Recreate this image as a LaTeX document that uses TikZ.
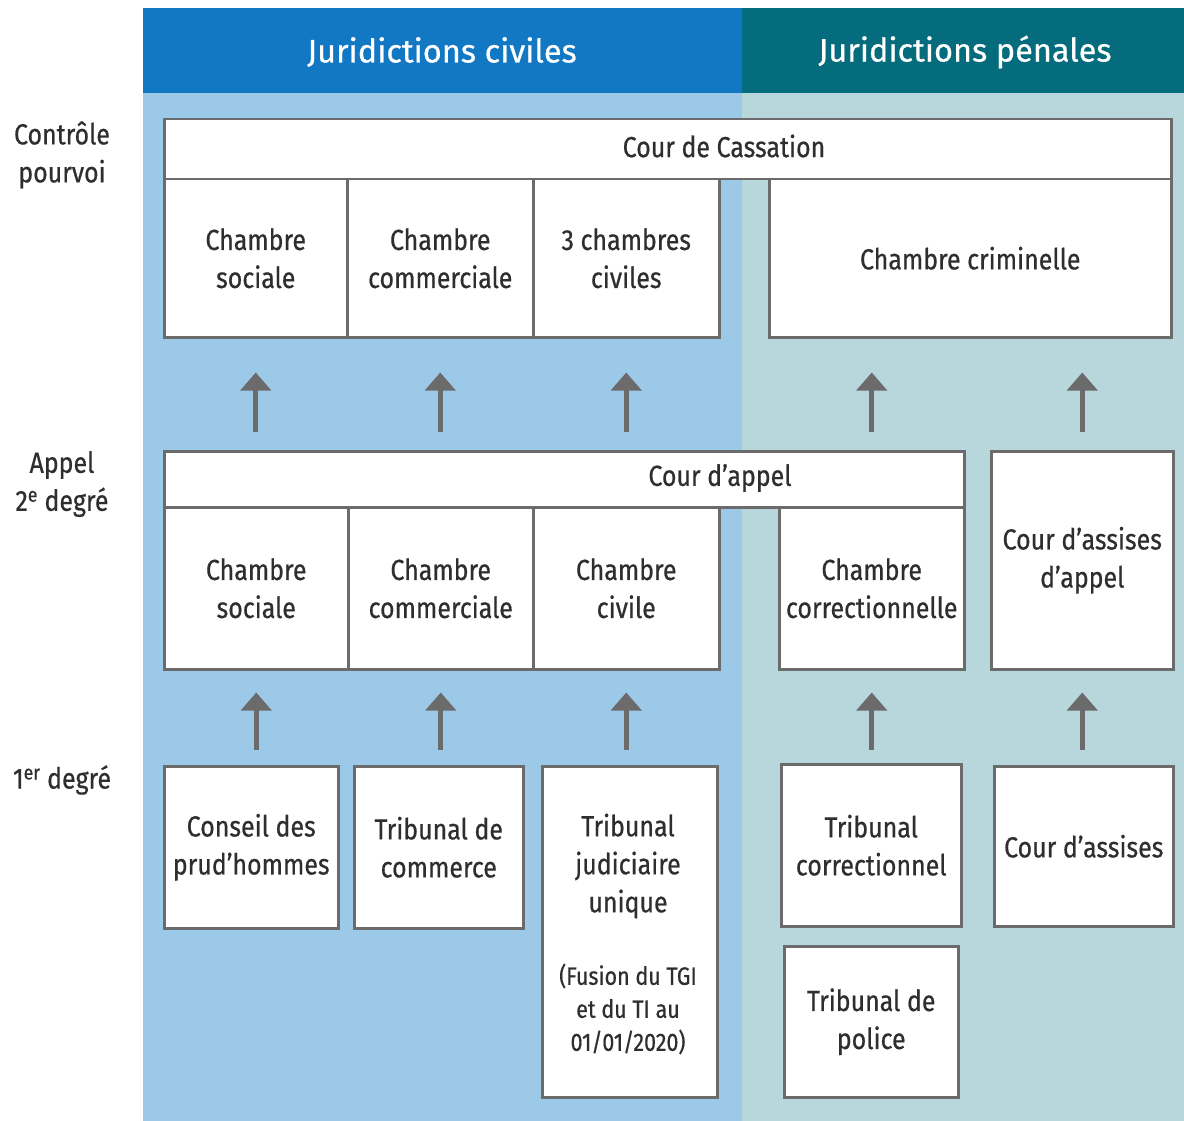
\documentclass[tikz,border=0pt]{standalone}
\usepackage{fontspec}
\setmainfont[FakeStretch=0.86, FakeBold=0.6]{Fira Sans}
\newfontfamily\headfont[FakeBold=0.5]{Fira Sans}
\usetikzlibrary{arrows.meta}
\definecolor{hblue}{HTML}{1278C3}
\definecolor{hteal}{HTML}{056C7E}
\definecolor{lblue}{HTML}{9CC9E7}
\definecolor{lteal}{HTML}{B7D7DD}
\definecolor{bord}{HTML}{6B6B6B}
\definecolor{txtc}{HTML}{2E2E2E}
\tikzset{
  box/.style={draw=bord, line width=2.5pt, fill=white, inner sep=0pt, anchor=north west,
    align=center, text=txtc, font=\fontsize{29}{38}\selectfont},
  lbl/.style={align=center, text=txtc, font=\fontsize{29}{38}\selectfont, inner sep=0pt},
  small/.style={align=center, text=txtc, font=\fontsize{25}{33}\selectfont, inner sep=0pt},
  head/.style={text=white, font=\headfont\fontsize{32.5}{38}\selectfont, inner sep=0pt},
  arr/.style={draw=bord, line width=5pt, -{Triangle[width=30pt,length=18pt]}}
}
\begin{document}
\begin{tikzpicture}[x=1pt,y=-1pt]
\useasboundingbox (0,0) rectangle (1184,1121);
% backgrounds
\fill[hblue] (143,8) rectangle (742,93);
\fill[hteal] (742,8) rectangle (1184,93);
\fill[lblue] (143,93) rectangle (742,1121);
\fill[lteal] (742,93) rectangle (1184,1121);
\node[head] (hciv) at (442,52) {Juridictions civiles};
\node[head] (hpen) at (965,52) {Juridictions pénales};
% left labels
\node[lbl] (l1) at (62,155) {Contrôle\\pourvoi};
\node[lbl] (l2) at (62,484) {Appel\\2\textsuperscript{e} degré};
\node[lbl] (l3) at (62,780) {1\textsuperscript{er} degré};
% Cour de cassation
\node[box, minimum width=1007pt, minimum height=60pt] (cass) at (163,118) {};
\node[lbl] (casst) at (724,146) {Cour de Cassation};
\node[box, minimum width=183pt, minimum height=158pt] (cs1) at (163,178) {Chambre\\sociale};
\node[box, minimum width=186pt, minimum height=158pt] (cc1) at (346,178) {Chambre\\commerciale};
\node[box, minimum width=186pt, minimum height=158pt] (civ1) at (532,178) {3 chambres\\civiles};
\node[box, minimum width=402pt, minimum height=158pt] (crim) at (768,178) {Chambre criminelle};
% Cour d'appel
\node[box, minimum width=800pt, minimum height=56pt] (appel) at (163,450) {};
\node[lbl] (appelt) at (720,478) {Cour d’appel};
\node[box, minimum width=184pt, minimum height=162pt] (cs2) at (163,506) {Chambre\\sociale};
\node[box, minimum width=185pt, minimum height=162pt] (cc2) at (347,506) {Chambre\\commerciale};
\node[box, minimum width=186pt, minimum height=162pt] (civ2) at (532,506) {Chambre\\civile};
\node[box, minimum width=185pt, minimum height=162pt] (corr2) at (778,506) {Chambre\\correctionnelle};
\node[box, minimum width=182pt, minimum height=218pt] (assapp) at (990,450) {Cour d’assises\\d’appel};
% 1er degre
\node[box, minimum width=174pt, minimum height=162pt] (cph) at (163,765) {Conseil des\\prud’hommes};
\node[box, minimum width=169pt, minimum height=162pt] (tcom) at (353,765) {Tribunal de\\commerce};
\node[box, minimum width=175pt, minimum height=331pt] (tj) at (541,765) {};
\node[lbl] (tjt) at (628,866) {Tribunal\\judiciaire\\unique};
\node[small] (tjs) at (628,1009) {(Fusion du TGI\\et du TI au\\01/01/2020)};
\node[box, minimum width=180pt, minimum height=162pt] (tcorr) at (780,763) {Tribunal\\correctionnel};
\node[box, minimum width=179pt, minimum height=160pt] (cass1) at (993,765) {Cour d’assises};
\node[box, minimum width=174pt, minimum height=151pt] (tpol) at (783,945) {Tribunal de\\police};
% arrows row 1
\draw[arr, shorten <=18pt, shorten >=34pt] (cs1.south |- appel.north) -- (cs1.south);
\draw[arr, shorten <=18pt, shorten >=34pt] (cc1.south |- appel.north) -- (cc1.south);
\draw[arr, shorten <=18pt, shorten >=34pt] (civ1.south |- appel.north) -- (civ1.south);
\draw[arr, shorten <=18pt, shorten >=34pt] (corr2.north |- appel.north) -- (corr2.north |- crim.south);
\draw[arr, shorten <=18pt, shorten >=34pt] (assapp.north) -- (assapp.north |- crim.south);
% arrows row 2
\draw[arr, shorten <=15pt, shorten >=22pt] (cs2.south |- cph.north) -- (cs2.south);
\draw[arr, shorten <=15pt, shorten >=22pt] (cc2.south |- tcom.north) -- (cc2.south);
\draw[arr, shorten <=15pt, shorten >=22pt] (civ2.south |- tj.north) -- (civ2.south);
\draw[arr, shorten <=13pt, shorten >=22pt] (corr2.south |- tcorr.north) -- (corr2.south);
\draw[arr, shorten <=15pt, shorten >=22pt] (assapp.south |- cass1.north) -- (assapp.south);
\end{tikzpicture}
\end{document}
